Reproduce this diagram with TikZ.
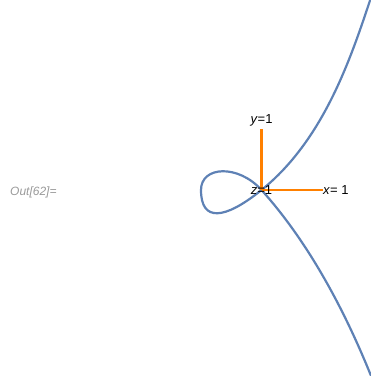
\documentclass[tikz,border=0pt]{standalone}
\usepackage{fontspec}
\setmainfont{Liberation Sans}
\usetikzlibrary{positioning}
\definecolor{curveblue}{rgb}{0.368417,0.506779,0.709798}
\definecolor{axisorange}{rgb}{1,0.5,0}

\begin{document}
\begin{tikzpicture}[x=1pt, y=-1pt]
    \useasboundingbox (0,0) rectangle (371,376);
    \node[font=\fontsize{12}{14}\selectfont\itshape, text=gray!80, anchor=west, inner sep=0pt] (outlabel) at (10,192) {Out[62]=};
    \begin{scope}
      \clip (0,0) rectangle (371,376);
      \draw[curveblue, line width=2.2pt] (370.5,-1) .. controls (350.5,59) and (323.5,140) .. (261.5,190)
        .. controls (224.3,220) and (201,222) .. (201,190)
        .. controls (201,166) and (238.1,164) .. (261.5,190)
        .. controls (306.5,240) and (343,306) .. (371.5,377);
    \end{scope}
    \coordinate (origin) at (261.5,190);
    \coordinate (xtip) at (323,190);
    \coordinate (ytip) at (261.5,129);
    \draw[axisorange, line width=2.2pt] (origin) -- (xtip);
    \draw[axisorange, line width=2.2pt] (origin) -- (ytip);
    \node[font=\fontsize{13}{15}\selectfont, anchor=west, inner sep=0pt] (xlabel) at (xtip) {\textit{x}= 1};
    \node[font=\fontsize{13}{15}\selectfont, anchor=south, inner sep=3pt] (ylabel) at (ytip) {\textit{y}=1};
    \node[font=\fontsize{13}{15}\selectfont, inner sep=0pt] (zlabel) at (origin) {\textit{z}=1};
  \end{tikzpicture}
\end{document}
